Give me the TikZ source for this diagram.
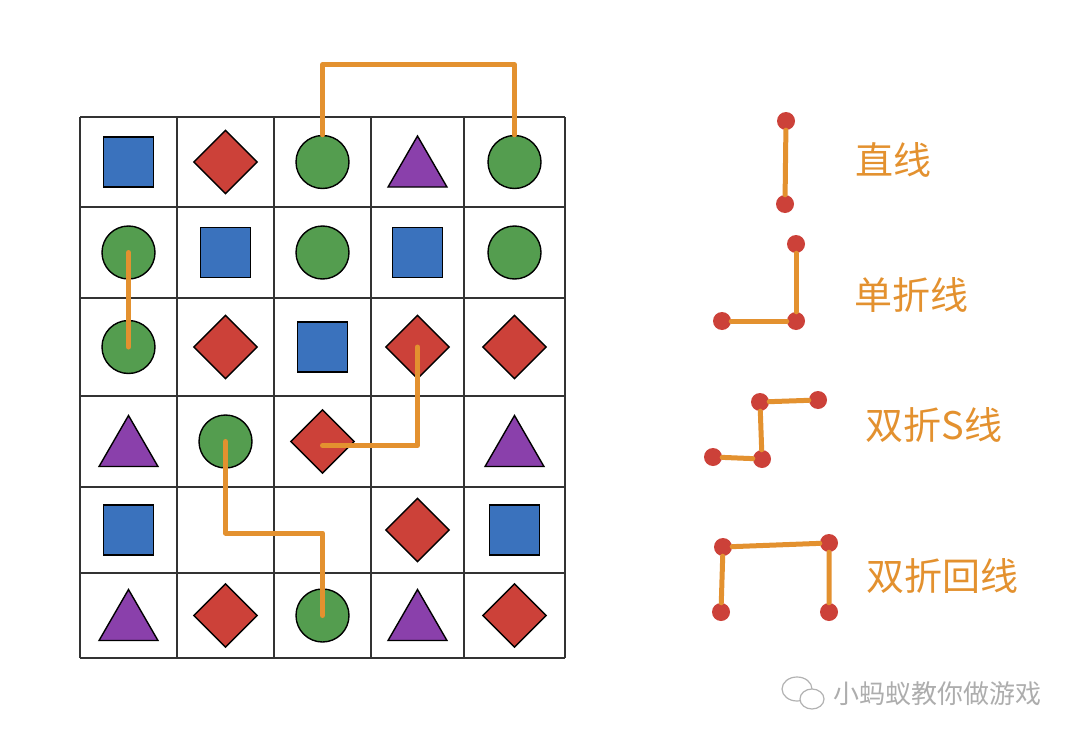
\documentclass[tikz,border=0pt]{standalone}
\usepackage{fontspec}
\newfontfamily\cjk{Noto Sans CJK SC}
\usetikzlibrary{positioning, shapes.geometric}
\definecolor{sqblue}{HTML}{3A72BD}
\definecolor{dmred}{HTML}{CC4139}
\definecolor{ccgreen}{HTML}{549D4F}
\definecolor{trpurple}{HTML}{8A40AB}
\definecolor{linkorange}{HTML}{E3912F}

\begin{document}
\begin{tikzpicture}[x=1pt, y=-1pt]
		% Define styles
		\tikzset{
			sq/.style={rectangle, draw, line width=1.4pt, fill=sqblue, minimum size=50pt, inner sep=0pt},
			dm/.style={diamond, draw, line width=1.4pt, fill=dmred, minimum width=64pt, minimum height=64pt, inner sep=0pt},
			cc/.style={circle, draw, line width=1.4pt, fill=ccgreen, minimum size=53pt, inner sep=0pt},
			tr/.style={regular polygon, regular polygon sides=3, draw, line width=1.4pt, fill=trpurple, minimum size=68pt, inner sep=0pt, yshift=-8pt},
			gridline/.style={draw=black!80, line width=1.3pt},
			link/.style={draw=linkorange, line width=5pt, line cap=round, line join=round},
			dot/.style={circle, fill=dmred, minimum size=18pt, inner sep=0pt},
			legendtext/.style={text=linkorange, font=\cjk\fontsize{38}{44}\selectfont},
			mark text/.style={text=black!32, font=\cjk\fontsize{26}{30}\selectfont}
		}
		\useasboundingbox (0,0) rectangle (1080,744);
		
		% Grid
		\foreach \x in {80,177,274,371,464,565}
			\draw[gridline] (\x,117) -- (\x,658);
		\foreach \y in {117,207,298,396,487,573,658}
			\draw[gridline] (80,\y) -- (565,\y);
		
		% Nodes
		\node[sq] (c11) at (128.5,162) {};
		\node[dm] (c12) at (225.5,162) {};
		\node[cc] (c13) at (322.5,162) {};
		\node[tr] (c14) at (417.5,162) {};
		\node[cc] (c15) at (514.5,162) {};
		
		\node[cc] (c21) at (128.5,252.5) {};
		\node[sq] (c22) at (225.5,252.5) {};
		\node[cc] (c23) at (322.5,252.5) {};
		\node[sq] (c24) at (417.5,252.5) {};
		\node[cc] (c25) at (514.5,252.5) {};
		
		\node[cc] (c31) at (128.5,347) {};
		\node[dm] (c32) at (225.5,347) {};
		\node[sq] (c33) at (322.5,347) {};
		\node[dm] (c34) at (417.5,347) {};
		\node[dm] (c35) at (514.5,347) {};
		
		\node[tr] (c41) at (128.5,441.5) {};
		\node[cc] (c42) at (225.5,441.5) {};
		\node[dm] (c43) at (322.5,441.5) {};
		\node[tr] (c45) at (514.5,441.5) {};
		
		\node[sq] (c51) at (128.5,530) {};
		\coordinate (c53) at (322.5,533);
		\node[dm] (c54) at (417.5,530) {};
		\node[sq] (c55) at (514.5,530) {};
		
		\node[tr] (c61) at (128.5,615.5) {};
		\node[dm] (c62) at (225.5,615.5) {};
		\node[cc] (c63) at (322.5,615.5) {};
		\node[tr] (c64) at (417.5,615.5) {};
		\node[dm] (c65) at (514.5,615.5) {};
		
		% Links on the board
		\draw[link] (c13.north) -- ++(0,-70) -| (c15.north);
		\draw[link] (c21.center) -- (c31.center);
		\draw[link] (c34.center) |- ([yshift=-4pt]c43.center);
		\draw[link] (c42.center) |- (c53) -- (c63.center);
		
		% Legend
		\node[dot] (a1) at (786,121) {};
		\node[dot] (a2) at (785,204) {};
		\draw[link] (a1) -- (a2);
		\node[legendtext] (l1) at (893,160) {直线};
		
		\node[dot] (b1) at (796,244) {};
		\node[dot] (b2) at (796,321) {};
		\node[dot] (b3) at (722,321) {};
		\draw[link] (b1) -- (b2) -- (b3);
		\node[legendtext] (l2) at (911,295) {单折线};
		
		\node[dot] (s1) at (818,400) {};
		\node[dot] (s2) at (760,402) {};
		\node[dot] (s3) at (762,459) {};
		\node[dot] (s4) at (713,457) {};
		\draw[link] (s1) -- (s2) -- (s3) -- (s4);
		\node[legendtext] (l3) at (934,425) {双折S线};
		
		\node[dot] (u1) at (721,612) {};
		\node[dot] (u2) at (723,547) {};
		\node[dot] (u3) at (829,543) {};
		\node[dot] (u4) at (829,612) {};
		\draw[link] (u1) -- (u2) -- (u3) -- (u4);
		\node[legendtext] (l4) at (942,576) {双折回线};
		
		% Watermark
		\draw[black!30, line width=1.2pt, fill=white] (797,689) ellipse (15 and 12);
		\draw[black!30, line width=1.2pt, fill=white] (812,699) ellipse (12 and 10);
		\node[mark text] (wm) at (937,694) {小蚂蚁教你做游戏};
\end{tikzpicture}
\end{document}
